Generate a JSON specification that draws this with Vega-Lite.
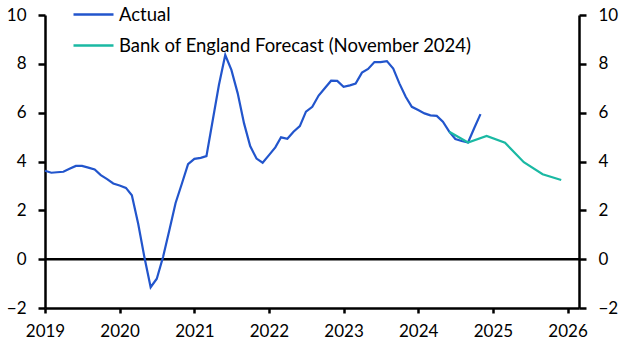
{
  "$schema": "https://vega.github.io/schema/vega-lite/v6.json",
  "width": 534,
  "height": 293,
  "autosize": {"type": "none"},
  "padding": {"left": 45, "top": 15, "right": 50, "bottom": 46},
  "config": {
    "view": {"stroke": null},
    "font": "Lato",
    "axis": {"labelFont": "Lato", "labelFontSize": 17, "labelColor": "#000000", "domainColor": "#000000", "domainWidth": 2.5, "tickColor": "#000000", "tickWidth": 2.5, "grid": false, "title": null},
    "legend": {"labelFont": "Lato", "labelFontSize": 18.5, "labelColor": "#000000"}
  },
  "datasets": {
    "series": [
      {"date": "2019-01-01", "value": 3.62, "series": "Actual"},
      {"date": "2019-02-01", "value": 3.54, "series": "Actual"},
      {"date": "2019-03-01", "value": 3.56, "series": "Actual"},
      {"date": "2019-04-01", "value": 3.58, "series": "Actual"},
      {"date": "2019-05-01", "value": 3.70, "series": "Actual"},
      {"date": "2019-06-01", "value": 3.82, "series": "Actual"},
      {"date": "2019-07-01", "value": 3.82, "series": "Actual"},
      {"date": "2019-08-01", "value": 3.75, "series": "Actual"},
      {"date": "2019-09-01", "value": 3.67, "series": "Actual"},
      {"date": "2019-10-01", "value": 3.44, "series": "Actual"},
      {"date": "2019-11-01", "value": 3.28, "series": "Actual"},
      {"date": "2019-12-01", "value": 3.10, "series": "Actual"},
      {"date": "2020-01-01", "value": 3.02, "series": "Actual"},
      {"date": "2020-02-01", "value": 2.92, "series": "Actual"},
      {"date": "2020-03-01", "value": 2.62, "series": "Actual"},
      {"date": "2020-04-01", "value": 1.45, "series": "Actual"},
      {"date": "2020-05-01", "value": 0.10, "series": "Actual"},
      {"date": "2020-06-01", "value": -1.15, "series": "Actual"},
      {"date": "2020-07-01", "value": -0.80, "series": "Actual"},
      {"date": "2020-08-01", "value": 0.10, "series": "Actual"},
      {"date": "2020-09-01", "value": 1.20, "series": "Actual"},
      {"date": "2020-10-01", "value": 2.30, "series": "Actual"},
      {"date": "2020-11-01", "value": 3.10, "series": "Actual"},
      {"date": "2020-12-01", "value": 3.89, "series": "Actual"},
      {"date": "2021-01-01", "value": 4.11, "series": "Actual"},
      {"date": "2021-02-01", "value": 4.15, "series": "Actual"},
      {"date": "2021-03-01", "value": 4.22, "series": "Actual"},
      {"date": "2021-04-01", "value": 5.70, "series": "Actual"},
      {"date": "2021-05-01", "value": 7.13, "series": "Actual"},
      {"date": "2021-06-01", "value": 8.36, "series": "Actual"},
      {"date": "2021-07-01", "value": 7.75, "series": "Actual"},
      {"date": "2021-08-01", "value": 6.79, "series": "Actual"},
      {"date": "2021-09-01", "value": 5.56, "series": "Actual"},
      {"date": "2021-10-01", "value": 4.63, "series": "Actual"},
      {"date": "2021-11-01", "value": 4.12, "series": "Actual"},
      {"date": "2021-12-01", "value": 3.95, "series": "Actual"},
      {"date": "2022-01-01", "value": 4.26, "series": "Actual"},
      {"date": "2022-02-01", "value": 4.58, "series": "Actual"},
      {"date": "2022-03-01", "value": 4.99, "series": "Actual"},
      {"date": "2022-04-01", "value": 4.93, "series": "Actual"},
      {"date": "2022-05-01", "value": 5.22, "series": "Actual"},
      {"date": "2022-06-01", "value": 5.45, "series": "Actual"},
      {"date": "2022-07-01", "value": 6.04, "series": "Actual"},
      {"date": "2022-08-01", "value": 6.24, "series": "Actual"},
      {"date": "2022-09-01", "value": 6.70, "series": "Actual"},
      {"date": "2022-10-01", "value": 7.00, "series": "Actual"},
      {"date": "2022-11-01", "value": 7.31, "series": "Actual"},
      {"date": "2022-12-01", "value": 7.30, "series": "Actual"},
      {"date": "2023-01-01", "value": 7.06, "series": "Actual"},
      {"date": "2023-02-01", "value": 7.12, "series": "Actual"},
      {"date": "2023-03-01", "value": 7.19, "series": "Actual"},
      {"date": "2023-04-01", "value": 7.64, "series": "Actual"},
      {"date": "2023-05-01", "value": 7.79, "series": "Actual"},
      {"date": "2023-06-01", "value": 8.07, "series": "Actual"},
      {"date": "2023-07-01", "value": 8.07, "series": "Actual"},
      {"date": "2023-08-01", "value": 8.11, "series": "Actual"},
      {"date": "2023-09-01", "value": 7.81, "series": "Actual"},
      {"date": "2023-10-01", "value": 7.20, "series": "Actual"},
      {"date": "2023-11-01", "value": 6.65, "series": "Actual"},
      {"date": "2023-12-01", "value": 6.24, "series": "Actual"},
      {"date": "2024-01-01", "value": 6.11, "series": "Actual"},
      {"date": "2024-02-01", "value": 5.97, "series": "Actual"},
      {"date": "2024-03-01", "value": 5.89, "series": "Actual"},
      {"date": "2024-04-01", "value": 5.87, "series": "Actual"},
      {"date": "2024-05-01", "value": 5.63, "series": "Actual"},
      {"date": "2024-06-01", "value": 5.22, "series": "Actual"},
      {"date": "2024-07-01", "value": 4.92, "series": "Actual"},
      {"date": "2024-08-01", "value": 4.84, "series": "Actual"},
      {"date": "2024-09-01", "value": 4.78, "series": "Actual"},
      {"date": "2024-10-01", "value": 5.36, "series": "Actual"},
      {"date": "2024-11-01", "value": 5.94, "series": "Actual"},
      {"date": "2024-06-01", "value": 5.22, "series": "Bank of England Forecast (November 2024)"},
      {"date": "2024-09-01", "value": 4.78, "series": "Bank of England Forecast (November 2024)"},
      {"date": "2024-12-01", "value": 5.05, "series": "Bank of England Forecast (November 2024)"},
      {"date": "2025-03-01", "value": 4.77, "series": "Bank of England Forecast (November 2024)"},
      {"date": "2025-06-01", "value": 3.97, "series": "Bank of England Forecast (November 2024)"},
      {"date": "2025-09-01", "value": 3.48, "series": "Bank of England Forecast (November 2024)"},
      {"date": "2025-12-01", "value": 3.24, "series": "Bank of England Forecast (November 2024)"}
    ],
    "zero": [{"value": 0}]
  },
  "layer": [
    {
      "data": {"name": "zero"},
      "mark": {"type": "rule", "color": "#000000", "strokeWidth": 2.5},
      "encoding": {
        "y": {"field": "value", "type": "quantitative", "scale": {"domain": [-2, 10], "nice": false, "zero": false},
          "axis": {"orient": "right", "values": [-2, 0, 2, 4, 6, 8, 10], "tickSize": 7, "labelPadding": 12, "labelAlign": "left"}}
      }
    },
    {
      "data": {"name": "series"},
      "mark": {"type": "line", "strokeWidth": 2.2, "interpolate": "linear"},
      "encoding": {
        "x": {"field": "date", "type": "temporal",
          "scale": {"type": "utc", "domain": ["2019-01-01", "2026-02-26"]},
          "axis": {"values": ["2019-01-01", "2020-01-01", "2021-01-01", "2022-01-01", "2023-01-01", "2024-01-01", "2025-01-01", "2026-01-01"], "format": "%Y", "formatType": "utc", "tickSize": 5, "labelPadding": 10, "labelAngle": 0, "labelFlush": false, "labelOverlap": false}},
        "y": {"field": "value", "type": "quantitative", "scale": {"domain": [-2, 10], "nice": false, "zero": false},
          "axis": {"orient": "left", "values": [-2, 0, 2, 4, 6, 8, 10], "tickSize": 7, "labelPadding": 12}},
        "color": {"field": "series", "type": "nominal",
          "scale": {"domain": ["Actual", "Bank of England Forecast (November 2024)"], "range": ["#2255cc", "#1ab9a3"]},
          "legend": {"title": null, "orient": "none", "legendX": 27, "legendY": -22, "symbolType": "stroke", "symbolSize": 1600, "symbolStrokeWidth": 2.5, "rowPadding": -12, "labelOffset": 4, "labelLimit": 0}}
      }
    }
  ],
  "resolve": {"axis": {"y": "independent"}}
}
